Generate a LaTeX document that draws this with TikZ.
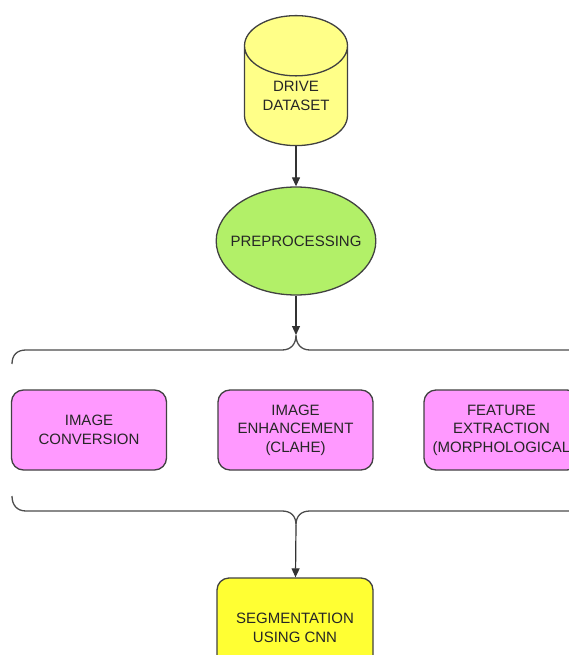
\documentclass[tikz,border=0pt]{standalone}
\usepackage{fontspec}
\setmainfont{Liberation Sans}
\usepackage{tikz}
\usetikzlibrary{arrows.meta, positioning, shapes.geometric}
\usepackage{xcolor}
\definecolor{driveyellow}{RGB}{255, 255, 136}
\definecolor{prepgreen}{RGB}{178, 240, 104}
\definecolor{stagepink}{RGB}{255, 153, 255}
\definecolor{segyellow}{RGB}{255, 255, 51}
\definecolor{edgegray}{RGB}{65, 65, 65}

\begin{document}
\begin{tikzpicture}[
    x=1pt, y=-1pt,
    box/.style={draw=edgegray, line width=1.3pt, align=center, inner sep=0pt,
                font=\fontsize{15}{18.5}\selectfont, text=black!85},
    store/.style={box, cylinder, shape border rotate=90, aspect=0.9,
                  fill=driveyellow, minimum width=103, minimum height=130},
    prep/.style={box, ellipse, fill=prepgreen, inner xsep=-9pt,
                 minimum width=156, minimum height=108},
    stage/.style={box, rounded corners=12pt, fill=stagepink,
                  minimum width=155, minimum height=80},
    segbox/.style={box, rounded corners=12pt, fill=segyellow,
                   minimum width=156, minimum height=100},
    brace/.style={draw=black!70, line width=1.3pt},
    arrow/.style={-{Triangle[length=9pt, width=8pt]}, line width=1.2pt, black!80},
  ]
    \useasboundingbox (0,0) rectangle (569,655);
    \clip (0,0) rectangle (569,655);

    % Dataset
    \node[store] (drive) at (296,96) {DRIVE\\DATASET};

    % Preprocessing
    \node[prep] (pre) at (296,241) {PREPROCESSING};

    % Stages
    \node[stage] (conv) at (89,430) {IMAGE\\CONVERSION};
    \node[stage] (enh) at (295.5,430) {IMAGE\\ENHANCEMENT\\(CLAHE)};
    \node[stage] (feat) at (501.5,430) {FEATURE\\EXTRACTION\\(MORPHOLOGICAL};

    % Segmentation
    \node[segbox] (seg) at (295,628) {SEGMENTATION\\USING CNN};

    % Braces
    \coordinate (topcusp) at (296,335);
    \coordinate (botcusp) at (296,525);
    \draw[brace] (12,364) .. controls (12,355) and (17,350) .. (26,350) -- (282,350)
      .. controls (291,350) and (296,344) .. (topcusp)
      .. controls (296,344) and (301,350) .. (310,350) -- (580,350);
    \draw[brace] (12,496) .. controls (12,505) and (17,511) .. (26,511) -- (282,511)
      .. controls (291,511) and (296,516) .. (botcusp)
      .. controls (296,516) and (301,511) .. (310,511) -- (580,511);

    % Arrows
    \draw[arrow] (drive) -- (pre);
    \draw[arrow] (pre) -- (topcusp);
    \draw[arrow] (botcusp) -- (seg);
  \end{tikzpicture}
\end{document}
